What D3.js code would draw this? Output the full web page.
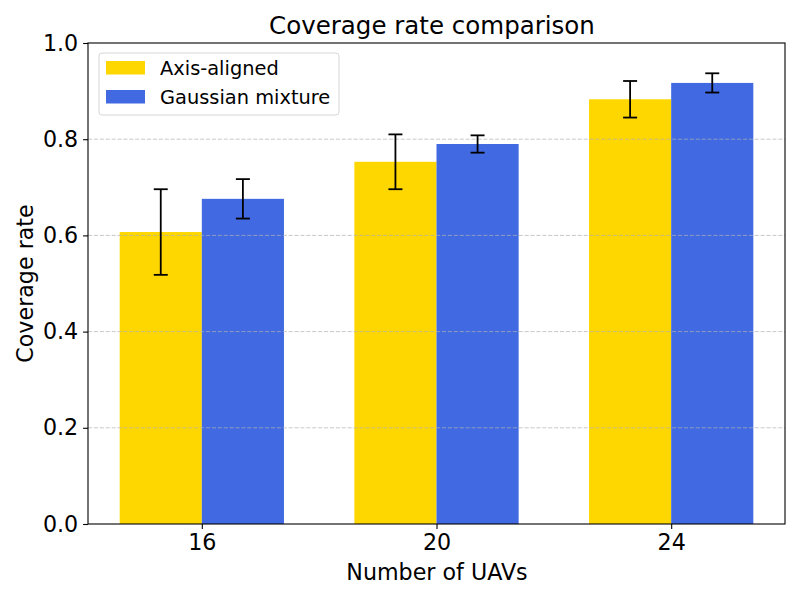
<!DOCTYPE html>
<html>
<head>
<meta charset="utf-8">
<script src="https://cdn.jsdelivr.net/npm/d3@7"></script>
<style>
  body { margin: 0; background: #fff; }
  text { font-family: "DejaVu Sans", sans-serif; fill: #000; }
</style>
</head>
<body>
<div id="chart"></div>
<script>
// data
var categories = ["16", "20", "24"];
var seriesNames = ["Axis-aligned", "Gaussian mixture"];
var seriesColors = ["#FFD700", "#4169E1"];
var axisAligned = [0.607, 0.753, 0.883];
var axisAlignedErr = [0.089, 0.057, 0.038];
var gaussianMix = [0.676, 0.790, 0.917];
var gaussianMixErr = [0.041, 0.018, 0.020];
var yTicks = [0.0, 0.2, 0.4, 0.6, 0.8, 1.0];
var gridTicks = [0.2, 0.4, 0.6, 0.8];

var W = 800, H = 600;
var margin = {top: 43, right: 15, bottom: 76, left: 88};
var width = W - margin.left - margin.right;
var height = H - margin.top - margin.bottom;
var barW = 0.35;

var svg = d3.select("#chart").append("svg")
  .attr("width", W)
  .attr("height", H);

var main = svg.append("g")
  .attr("transform", "translate(" + margin.left + "," + margin.top + ")");

// x is numeric like matplotlib: index positions with 5% margins
var x = d3.scaleLinear()
  .domain([-barW - 0.135, categories.length - 1 + barW + 0.135])
  .range([0, width]);
var y = d3.scaleLinear().domain([0, 1]).range([height, 0]);

var series = [
  {name: seriesNames[0], color: seriesColors[0], vals: axisAligned, errs: axisAlignedErr, off: -barW / 2},
  {name: seriesNames[1], color: seriesColors[1], vals: gaussianMix, errs: gaussianMixErr, off: barW / 2}
];

// bars
series.forEach(function(s) {
  main.append("g").selectAll("rect")
    .data(s.vals)
    .enter()
    .append("rect")
    .attr("x", function(d, i) { return x(i + s.off - barW / 2); })
    .attr("width", x(barW) - x(0))
    .attr("y", function(d) { return y(d); })
    .attr("height", function(d) { return height - y(d); })
    .style("fill", s.color);
});

// grid on top of bars (as in the reference)
main.append("g").selectAll("line")
  .data(gridTicks)
  .enter()
  .append("line")
  .attr("x1", 0).attr("x2", width)
  .attr("y1", function(d) { return y(d); })
  .attr("y2", function(d) { return y(d); })
  .style("stroke", "#b0b0b0")
  .style("stroke-opacity", 0.7)
  .style("stroke-width", 1)
  .style("stroke-dasharray", "4.1,1.8");

// error bars
var cap = 7;
series.forEach(function(s) {
  var g = main.append("g");
  s.vals.forEach(function(v, i) {
    var cx = x(i + s.off);
    var e = s.errs[i];
    g.append("line")
      .attr("x1", cx).attr("x2", cx)
      .attr("y1", y(v - e)).attr("y2", y(v + e))
      .style("stroke", "#000").style("stroke-width", 1.8);
    [v - e, v + e].forEach(function(t) {
      g.append("line")
        .attr("x1", cx - cap).attr("x2", cx + cap)
        .attr("y1", y(t)).attr("y2", y(t))
        .style("stroke", "#000").style("stroke-width", 1.8);
    });
  });
});

// axes
var xAxis = d3.axisBottom(x)
  .tickValues(categories.map(function(c, i) { return i; }))
  .tickFormat(function(d) { return categories[d]; })
  .tickSize(4.9).tickPadding(4.9);
var yAxis = d3.axisLeft(y)
  .tickValues(yTicks)
  .tickFormat(d3.format(".1f"))
  .tickSize(4.9).tickPadding(4.9);

var gx = main.append("g")
  .attr("transform", "translate(0," + height + ")")
  .call(xAxis);
var gy = main.append("g").call(yAxis);

[gx, gy].forEach(function(g) {
  g.select(".domain").remove();
  g.selectAll("line").style("stroke", "#000").style("stroke-width", 1.1);
  g.selectAll("text").style("font-size", "22.2px").style("font-family", "DejaVu Sans");
});

// spines
main.append("rect")
  .attr("x", 0).attr("y", 0)
  .attr("width", width).attr("height", height)
  .style("fill", "none")
  .style("stroke", "#000")
  .style("stroke-width", 1.1);

// labels
svg.append("text")
  .attr("x", 432)
  .attr("y", 34)
  .attr("text-anchor", "middle")
  .style("font-size", "24.5px")
  .text("Coverage rate comparison");

svg.append("text")
  .attr("x", 437)
  .attr("y", 580)
  .attr("text-anchor", "middle")
  .style("font-size", "22.2px")
  .text("Number of UAVs");

svg.append("text")
  .attr("transform", "translate(33," + (margin.top + height / 2) + ") rotate(-90)")
  .attr("text-anchor", "middle")
  .style("font-size", "22.2px")
  .text("Coverage rate");

// legend
var legend = svg.append("g").attr("transform", "translate(99,53)");
legend.append("rect")
  .attr("x", 0).attr("y", 0)
  .attr("width", 240).attr("height", 62)
  .attr("rx", 3)
  .style("fill", "#fff")
  .style("fill-opacity", 0.8)
  .style("stroke", "#d6d6d6")
  .style("stroke-width", 1);

var items = legend.selectAll("g.item")
  .data(series)
  .enter()
  .append("g")
  .attr("class", "item")
  .attr("transform", function(d, i) { return "translate(7," + (8 + i * 29) + ")"; });
items.append("rect")
  .attr("width", 39).attr("height", 13.5)
  .style("fill", function(d) { return d.color; });
items.append("text")
  .attr("x", 54).attr("y", 14)
  .style("font-size", "19.4px")
  .text(function(d) { return d.name; });
</script>
</body>
</html>
